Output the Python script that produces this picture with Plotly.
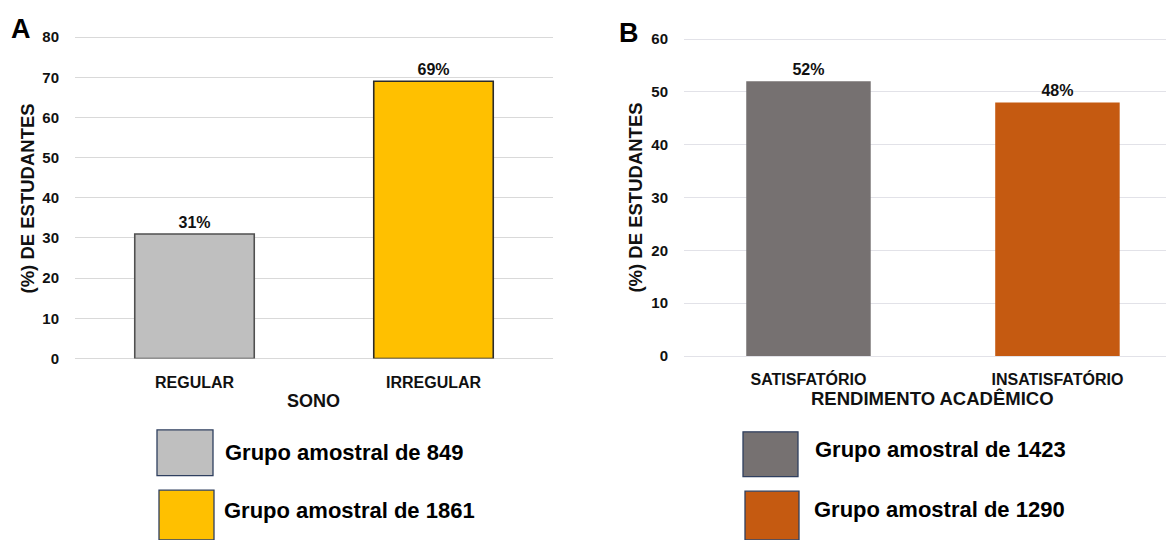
import plotly.graph_objects as go

# ---- data ----
sono_categories = ["REGULAR", "IRREGULAR"]
sono_values = [31, 69]
sono_legend = ["Grupo amostral de 849", "Grupo amostral de 1861"]

rend_categories = ["SATISFATÓRIO", "INSATISFATÓRIO"]
rend_values = [52, 48]
rend_legend = ["Grupo amostral de 1423", "Grupo amostral de 1290"]

W, H = 1166, 540
FONT = "Liberation Sans, Arial, sans-serif"
TXT = "#111111"

sono_colors = ["#BFBFBF", "#FFC000"]
sono_lines = ["#505050", "#2b2b2b"]
rend_colors = ["#767171", "#C55A11"]


def px_x(p):
    return p / W


def px_y(p):
    return 1 - p / H


fig = go.Figure()

fig.add_trace(go.Bar(
    x=sono_categories, y=sono_values, width=0.5,
    marker=dict(color=sono_colors, line=dict(color=sono_lines, width=1.6)),
    text=[f"{v}%" for v in sono_values], textposition="outside",
    textfont=dict(family=FONT, size=16, color=TXT, weight="bold"),
    cliponaxis=False, xaxis="x", yaxis="y", showlegend=False, hoverinfo="skip",
))
fig.add_trace(go.Bar(
    x=rend_categories, y=rend_values, width=0.5,
    marker=dict(color=rend_colors, line=dict(width=0)),
    text=[f"{v}%" for v in rend_values], textposition="outside",
    textfont=dict(family=FONT, size=16, color=TXT, weight="bold"),
    cliponaxis=False, xaxis="x2", yaxis="y2", showlegend=False, hoverinfo="skip",
))

tickfont = dict(family=FONT, size=15, color=TXT, weight="bold")
catfont = dict(family=FONT, size=16, color=TXT, weight="bold")

# pixel scale: A 41.31 px per 10, B 54.33 px per 10 ; range padded by 0.5 at top
fig.update_layout(
    width=W, height=H,
    margin=dict(l=0, r=0, t=0, b=0),
    paper_bgcolor="white", plot_bgcolor="white",
    xaxis=dict(domain=[px_x(75), px_x(553)], anchor="y", showgrid=False, showline=False,
               zeroline=False, ticks="outside", ticklen=9, tickcolor="rgba(0,0,0,0)",
               tickfont=catfont, fixedrange=True),
    yaxis=dict(domain=[px_y(361.5), px_y(31 - 0.5 * 4.131)], anchor="x", range=[0, 80.5],
               tickvals=[0, 10, 20, 30, 40, 50, 60, 70, 80], fixedrange=True,
               showgrid=True, gridcolor="#D9D9D9", gridwidth=1.2,
               zeroline=True, zerolinecolor="#D9D9D9", zerolinewidth=1.2,
               showline=False, ticks="outside", ticklen=12, tickcolor="rgba(0,0,0,0)",
               tickfont=tickfont),
    xaxis2=dict(domain=[px_x(684), 1.0], anchor="y2", range=[-0.5, 1.436], fixedrange=True,
                showgrid=False, showline=False, zeroline=False,
                ticks="outside", ticklen=9, tickcolor="rgba(0,0,0,0)", tickfont=catfont),
    yaxis2=dict(domain=[px_y(359), px_y(33 - 0.5 * 5.433)], anchor="x2", range=[0, 60.5],
                tickvals=[0, 10, 20, 30, 40, 50, 60], fixedrange=True,
                showgrid=True, gridcolor="#E2E2E8", gridwidth=1.2,
                zeroline=True, zerolinecolor="#E2E2E8", zerolinewidth=1.2,
                showline=False, ticks="outside", ticklen=12, tickcolor="rgba(0,0,0,0)",
                tickfont=tickfont),
)

ann = []


def add_text(text, x, y, size, xanchor="center", angle=0, color=TXT):
    ann.append(dict(text=text, x=px_x(x), y=px_y(y), xref="paper", yref="paper",
                    xanchor=xanchor, yanchor="middle", textangle=angle, showarrow=False,
                    font=dict(family=FONT, size=size, color=color, weight="bold")))


# panel letters
add_text("A", 20.5, 23, 27, color="#000")
add_text("B", 629, 27, 27, color="#000")
# axis titles
ytitle = "(%) DE ESTUDANTES"
add_text(ytitle, 28, 197, 18.5, angle=-90)
add_text(ytitle, 636, 196, 18.5, angle=-90)
add_text("SONO", 314, 405, 18)
add_text("RENDIMENTO ACADÊMICO", 932, 403, 18.5)

shapes = []
legend_specs = [
    (sono_legend, sono_colors, [(157, 435, 213, 482), (159, 497, 214, 548)], [(223, 458), (222, 518)]),
    (rend_legend, rend_colors, [(743, 437, 798, 483), (745, 498, 799, 548)], [(813, 455), (812, 517)]),
]
for labels, colors, boxes, texts in legend_specs:
    for lab, col, (x0, y0, x1, y1), (tx, ty) in zip(labels, colors, boxes, texts):
        shapes.append(dict(type="rect", xref="paper", yref="paper",
                           x0=px_x(x0), x1=px_x(x1), y0=px_y(y0), y1=px_y(y1),
                           fillcolor=col, line=dict(color="#2F3F5F", width=1.3)))
        add_text(lab, tx, ty, 22, xanchor="left", color="#000")

fig.update_layout(annotations=ann, shapes=shapes)

fig.write_html(
    "out.html",
    config={"displayModeBar": False, "staticPlot": False},
    post_script="document.body.style.margin='0';document.body.style.overflow='hidden';",
)
